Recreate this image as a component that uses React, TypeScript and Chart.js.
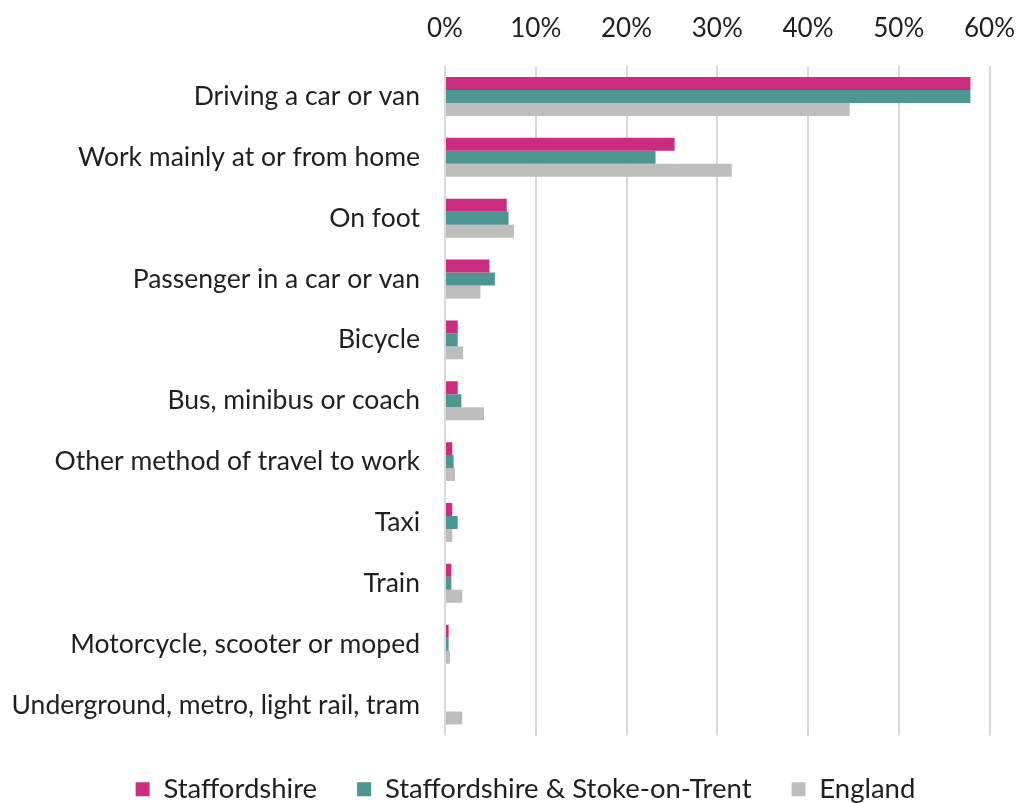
import React, { useEffect, useRef } from "react";
import { Chart, registerables } from "chart.js";

Chart.register(...registerables);

const categories = [
  "Driving a car or van",
  "Work mainly at or from home",
  "On foot",
  "Passenger in a car or van",
  "Bicycle",
  "Bus, minibus or coach",
  "Other method of travel to work",
  "Taxi",
  "Train",
  "Motorcycle, scooter or moped",
  "Underground, metro, light rail, tram",
];

const staffordshire = [57.9, 25.3, 6.8, 4.9, 1.4, 1.4, 0.8, 0.8, 0.7, 0.4, 0];
const staffsStoke = [57.9, 23.2, 7.0, 5.5, 1.4, 1.8, 0.95, 1.4, 0.7, 0.4, 0];
const england = [44.6, 31.6, 7.6, 3.9, 2.0, 4.3, 1.1, 0.8, 1.9, 0.55, 1.9];

const xTicks = [0, 10, 20, 30, 40, 50, 60];

const FONT = "Lato";
const TEXT = "#1F1F1F";

const shiftLegend = {
  id: "shiftLegend",
  afterLayout(chart: any) {
    const lg = chart.legend;
    if (lg) {
      lg.left += 14;
      lg.right += 14;
    }
  },
};

export default function App() {
  const ref = useRef<HTMLCanvasElement | null>(null);
  useEffect(() => {
    if (!ref.current) return;
    const chart = new Chart(ref.current, {
      type: "bar",
      data: {
        labels: categories,
        datasets: [
          { label: "Staffordshire", data: staffordshire, backgroundColor: "#CB2B80" },
          { label: "Staffordshire & Stoke-on-Trent", data: staffsStoke, backgroundColor: "#4D9691" },
          { label: "England", data: england, backgroundColor: "#BEBEBE" },
        ],
      },
      plugins: [shiftLegend],
      options: {
        indexAxis: "y",
        animation: false,
        responsive: true,
        maintainAspectRatio: false,
        layout: { padding: { left: 8, right: 2, top: 0, bottom: -10 } },
        datasets: { bar: { categoryPercentage: 0.64, barPercentage: 1.0 } },
        scales: {
          x: {
            position: "top",
            min: 0,
            max: 60,
            afterBuildTicks: (s: any) => {
              s.ticks = xTicks.map((v) => ({ value: v }));
            },
            ticks: {
              callback: (v: any) => v + "%",
              color: TEXT,
              font: { family: FONT, size: 26 },
              padding: 2,
            },
            grid: {
              color: "#D9D9D9",
              lineWidth: 2,
              drawTicks: true,
              tickLength: 20,
              tickColor: "rgba(0,0,0,0)",
            },
            border: { display: false },
            afterFit: (s: any) => {
              s.height = 66;
            },
          },
          y: {
            ticks: {
              color: TEXT,
              font: { family: FONT, size: 26.5 },
              padding: 25,
              autoSkip: false,
            },
            grid: { display: false, drawTicks: false },
            border: { display: false },
            afterFit: (s: any) => {
              s.width = 437;
            },
          },
        },
        plugins: {
          legend: {
            position: "bottom",
            labels: {
              boxWidth: 14,
              boxHeight: 14,
              color: TEXT,
              font: { family: FONT, size: 27.5 },
              padding: 40,
            },
          },
          tooltip: { enabled: false },
        },
      },
    });
    return () => chart.destroy();
  }, []);
  return (
    <div style={{ position: "fixed", left: 0, top: 0, width: 1017, height: 803, background: "#fff" }}>
      <canvas ref={ref} />
    </div>
  );
}
